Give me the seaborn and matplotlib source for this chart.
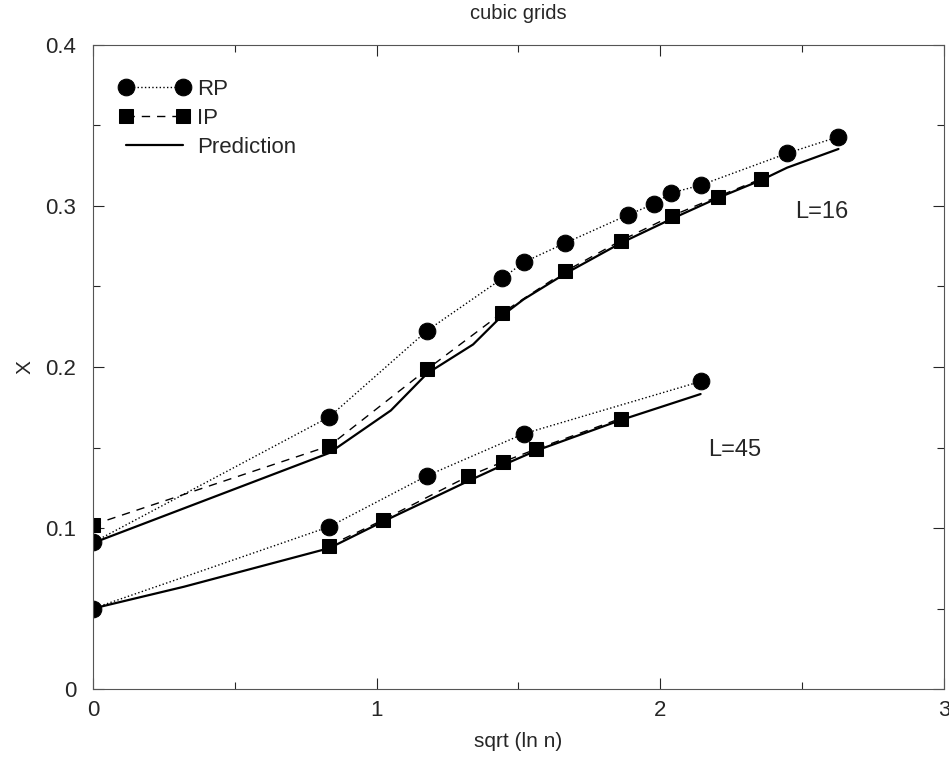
import matplotlib
matplotlib.use("Agg")
import matplotlib.pyplot as plt
import seaborn as sns
from matplotlib.ticker import MultipleLocator

# Set styles
sns.set_style("ticks")
plt.rcParams['font.family'] = ['Liberation Sans', 'DejaVu Sans']

# Data (x = sqrt(ln n), y = X)
# L=16
rp16_x = [0.0, 0.833, 1.178, 1.443, 1.518, 1.665, 1.885, 1.977, 2.037, 2.143, 2.447, 2.628]
rp16_y = [0.091, 0.169, 0.2226, 0.255, 0.265, 0.277, 0.2944, 0.3012, 0.308, 0.313, 0.3327, 0.343]
ip16_x = [0.0, 0.833, 1.178, 1.443, 1.665, 1.861, 2.040, 2.202, 2.355]
ip16_y = [0.102, 0.151, 0.1986, 0.2337, 0.2594, 0.2785, 0.2938, 0.3058, 0.3168]
pr16_x = [0.0, 0.833, 1.050, 1.178, 1.340, 1.443, 1.518, 1.665, 1.861, 2.040, 2.203, 2.355, 2.447, 2.628]
pr16_y = [0.0907, 0.1466, 0.173, 0.196, 0.214, 0.232, 0.242, 0.258, 0.277, 0.292, 0.305, 0.316, 0.3238, 0.3354]

# L=45
rp45_x = [0.0, 0.833, 1.178, 1.518, 2.142]
rp45_y = [0.050, 0.1008, 0.1325, 0.1585, 0.191]
ip45_x = [0.833, 1.022, 1.321, 1.444, 1.5615, 1.860]
ip45_y = [0.089, 0.105, 0.132, 0.141, 0.149, 0.168]
pr45_x = [0.0, 0.320, 0.833, 1.022, 1.178, 1.321, 1.444, 1.5615, 1.860, 2.142]
pr45_y = [0.050, 0.0635, 0.0875, 0.104, 0.117, 0.129, 0.139, 0.148, 0.167, 0.1832]

fig = plt.figure(figsize=(9.49, 7.57), dpi=100)
ax = fig.add_axes([0.098, 0.0898, 0.8967, 0.8508])

rp_style = dict(color="black", linestyle=":", linewidth=1.0, marker="o",
                markersize=12, markeredgecolor="black")
ip_style = dict(color="black", linestyle=(0, (6, 5)), linewidth=1.0, marker="s",
                markersize=10, markeredgecolor="black")
pr_style = dict(color="black", linestyle="-", linewidth=1.6)

sns.lineplot(x=pr16_x, y=pr16_y, ax=ax, label="Prediction", **pr_style)
sns.lineplot(x=pr45_x, y=pr45_y, ax=ax, label="_nolegend_", **pr_style)
sns.lineplot(x=ip16_x, y=ip16_y, ax=ax, label="IP", **ip_style)
sns.lineplot(x=ip45_x, y=ip45_y, ax=ax, label="_nolegend_", **ip_style)
sns.lineplot(x=rp16_x, y=rp16_y, ax=ax, label="RP", **rp_style)
sns.lineplot(x=rp45_x, y=rp45_y, ax=ax, label="_nolegend_", **rp_style)

ax.set_xlim(0, 3)
ax.set_ylim(0, 0.4)
ax.xaxis.set_major_locator(MultipleLocator(1))
ax.xaxis.set_minor_locator(MultipleLocator(0.5))
ax.yaxis.set_major_locator(MultipleLocator(0.1))
ax.yaxis.set_minor_locator(MultipleLocator(0.05))
ax.xaxis.set_major_formatter(plt.FuncFormatter(lambda v, p: "%g" % v))
ax.yaxis.set_major_formatter(plt.FuncFormatter(lambda v, p: "%g" % round(v, 2)))
ax.tick_params(which="both", direction="in", top=True, right=True, width=0.8, labelsize=16)
ax.tick_params(which="major", length=8)
ax.tick_params(which="minor", length=5)
ax.tick_params(axis="y", pad=12)
ax.tick_params(axis="x", pad=8)
for s in ax.spines.values():
    s.set_linewidth(0.8)
    s.set_color("#555555")

ax.set_xlabel("sqrt (ln n)", fontsize=15, labelpad=8)
ax.set_ylabel("X", fontsize=15, labelpad=8)
ax.set_title("cubic grids", fontsize=14.5, pad=19)

ax.text(2.568, 0.2965, "L=16", fontsize=17, ha="center", va="center")
ax.text(2.263, 0.1484, "L=45", fontsize=17, ha="center", va="center")

handles, labels = ax.get_legend_handles_labels()
order = [labels.index(l) for l in ["RP", "IP", "Prediction"]]
ax.legend([handles[i] for i in order], [labels[i] for i in order],
          loc="upper left", bbox_to_anchor=(0.02, 0.961), frameon=False,
          numpoints=2, handlelength=3.2, handletextpad=0.3, labelspacing=0.35,
          fontsize=16, borderaxespad=0)

plt.savefig("out.png", dpi=100)
